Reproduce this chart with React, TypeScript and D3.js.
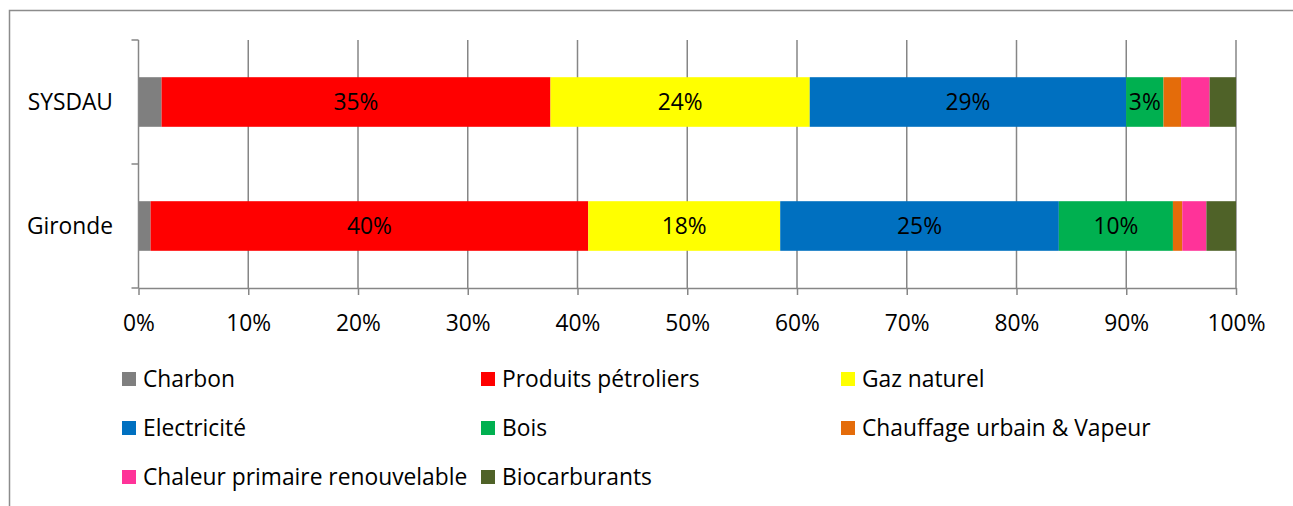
import React, { useEffect, useRef } from "react";
import * as d3 from "d3";

// categories (top to bottom)
const categories = ["SYSDAU", "Gironde"];

// share of each energy (percent), [SYSDAU, Gironde]
const charbon = [2.1, 1.1];
const produitsPetroliers = [35.4, 39.9];
const gazNaturel = [23.6, 17.5];
const electricite = [28.8, 25.4];
const bois = [3.4, 10.4];
const chauffageUrbain = [1.6, 0.85];
const chaleurRenouvelable = [2.6, 2.2];
const biocarburants = [2.4, 2.7];

const seriesNames = [
  "Charbon",
  "Produits pétroliers",
  "Gaz naturel",
  "Electricité",
  "Bois",
  "Chauffage urbain & Vapeur",
  "Chaleur primaire renouvelable",
  "Biocarburants",
];
const seriesValues = [
  charbon,
  produitsPetroliers,
  gazNaturel,
  electricite,
  bois,
  chauffageUrbain,
  chaleurRenouvelable,
  biocarburants,
];
const colors = [
  "#7f7f7f",
  "#ff0000",
  "#ffff00",
  "#0070c0",
  "#00b050",
  "#e46c0a",
  "#ff3399",
  "#4f6228",
];
const xTicks = [0, 0.1, 0.2, 0.3, 0.4, 0.5, 0.6, 0.7, 0.8, 0.9, 1];

const W = 1293;
const H = 506;
const FONT = "'Open Sans', sans-serif";
const FS = "22.8px";

export default function App() {
  const ref = useRef<SVGSVGElement>(null);

  useEffect(() => {
    const svg = d3.select(ref.current);
    svg.selectAll("*").remove();

    const left = 138.5;
    const right = 1236;
    const top = 40;
    const bottom = 288;
    const gridColor = "#868686";

    // outer frame
    svg
      .append("rect")
      .attr("x", 9.5)
      .attr("y", 10.5)
      .attr("width", 1400)
      .attr("height", 600)
      .attr("fill", "white")
      .attr("stroke", "#8c8c8c")
      .attr("stroke-width", 1.5);

    const table = categories.map((c, i) => {
      const row: any = { cat: c };
      seriesNames.forEach((s, j) => (row[s] = seriesValues[j][i]));
      return row;
    });

    const stack = d3.stack().keys(seriesNames).offset(d3.stackOffsetExpand);
    const stacked = stack(table);

    const x = d3.scaleLinear().domain([0, 1]).range([left, right]);
    const y = d3
      .scaleBand()
      .domain(categories)
      .range([top, bottom])
      .paddingInner(0.6)
      .paddingOuter(0.3);

    // vertical gridlines
    svg
      .append("g")
      .selectAll("line")
      .data(xTicks.slice(1))
      .enter()
      .append("line")
      .attr("x1", (d) => x(d))
      .attr("x2", (d) => x(d))
      .attr("y1", top)
      .attr("y2", bottom)
      .attr("stroke", gridColor)
      .attr("stroke-width", 1.5);

    // bars
    const layer = svg
      .append("g")
      .selectAll("g")
      .data(stacked)
      .enter()
      .append("g")
      .attr("fill", (d, i) => colors[i]);

    layer
      .selectAll("rect")
      .data((d) => d)
      .enter()
      .append("rect")
      .attr("x", (d) => x(d[0]))
      .attr("y", (d: any) => y(d.data.cat)!)
      .attr("width", (d) => x(d[1]) - x(d[0]))
      .attr("height", y.bandwidth());

    // value labels
    stacked.forEach((s, j) => {
      s.forEach((d: any, i) => {
        const v = seriesValues[j][i];
        if (v < 3) return;
        svg
          .append("text")
          .attr("x", (x(d[0]) + x(d[1])) / 2)
          .attr("y", y(d.data.cat)! + y.bandwidth() / 2)
          .attr("dy", "0.36em")
          .attr("text-anchor", "middle")
          .style("font-family", FONT)
          .style("font-size", FS)
          .attr("fill", "#000")
          .text(Math.round(v) + "%");
      });
    });

    // y axis
    const yAxis = svg.append("g");
    yAxis
      .append("line")
      .attr("x1", left)
      .attr("x2", left)
      .attr("y1", top)
      .attr("y2", bottom)
      .attr("stroke", gridColor)
      .attr("stroke-width", 1.5);
    const bounds = [top, ...categories.map((c) => y(c)! - y.step() * 0.3 + y.step())];
    yAxis
      .selectAll(".tk")
      .data(bounds)
      .enter()
      .append("line")
      .attr("x1", left - 7)
      .attr("x2", left)
      .attr("y1", (d) => d)
      .attr("y2", (d) => d)
      .attr("stroke", gridColor)
      .attr("stroke-width", 1.5);
    yAxis
      .selectAll("text")
      .data(categories)
      .enter()
      .append("text")
      .attr("x", 113)
      .attr("y", (d) => y(d)! + y.bandwidth() / 2)
      .attr("dy", "0.36em")
      .attr("text-anchor", "end")
      .style("font-family", FONT)
      .style("font-size", FS)
      .attr("fill", "#000")
      .text((d) => d);

    // x axis
    const xAxis = d3
      .axisBottom(x)
      .tickValues(xTicks)
      .tickFormat(d3.format(".0%"))
      .tickSize(7)
      .tickSizeOuter(0);
    const gx = svg
      .append("g")
      .attr("transform", `translate(0,${bottom})`)
      .call(xAxis);
    gx.select(".domain").attr("stroke", gridColor).attr("stroke-width", 1.5);
    gx.selectAll(".tick line").attr("stroke", gridColor).attr("stroke-width", 1.5);
    gx.selectAll(".tick text")
      .attr("y", 0)
      .attr("dy", 0)
      .attr("transform", "translate(0,43)")
      .style("font-family", FONT)
      .style("font-size", FS)
      .attr("fill", "#000");

    // legend
    const colX = [122, 481, 841];
    const rowY = [379, 428, 477];
    const legend = svg
      .append("g")
      .selectAll("g")
      .data(seriesNames)
      .enter()
      .append("g")
      .attr("transform", (d, i) => `translate(${colX[i % 3]},${rowY[Math.floor(i / 3)]})`);
    legend
      .append("rect")
      .attr("x", 0)
      .attr("y", -7)
      .attr("width", 14)
      .attr("height", 14)
      .attr("fill", (d, i) => colors[i]);
    legend
      .append("text")
      .attr("x", 21)
      .attr("y", 0)
      .attr("dy", "0.36em")
      .style("font-family", FONT)
      .style("font-size", FS)
      .attr("fill", "#000")
      .text((d) => d);
  }, []);

  return (
    <div style={{ position: "absolute", left: 0, top: 0 }}>
      <svg ref={ref} width={W} height={H} style={{ display: "block", background: "white" }} />
    </div>
  );
}
